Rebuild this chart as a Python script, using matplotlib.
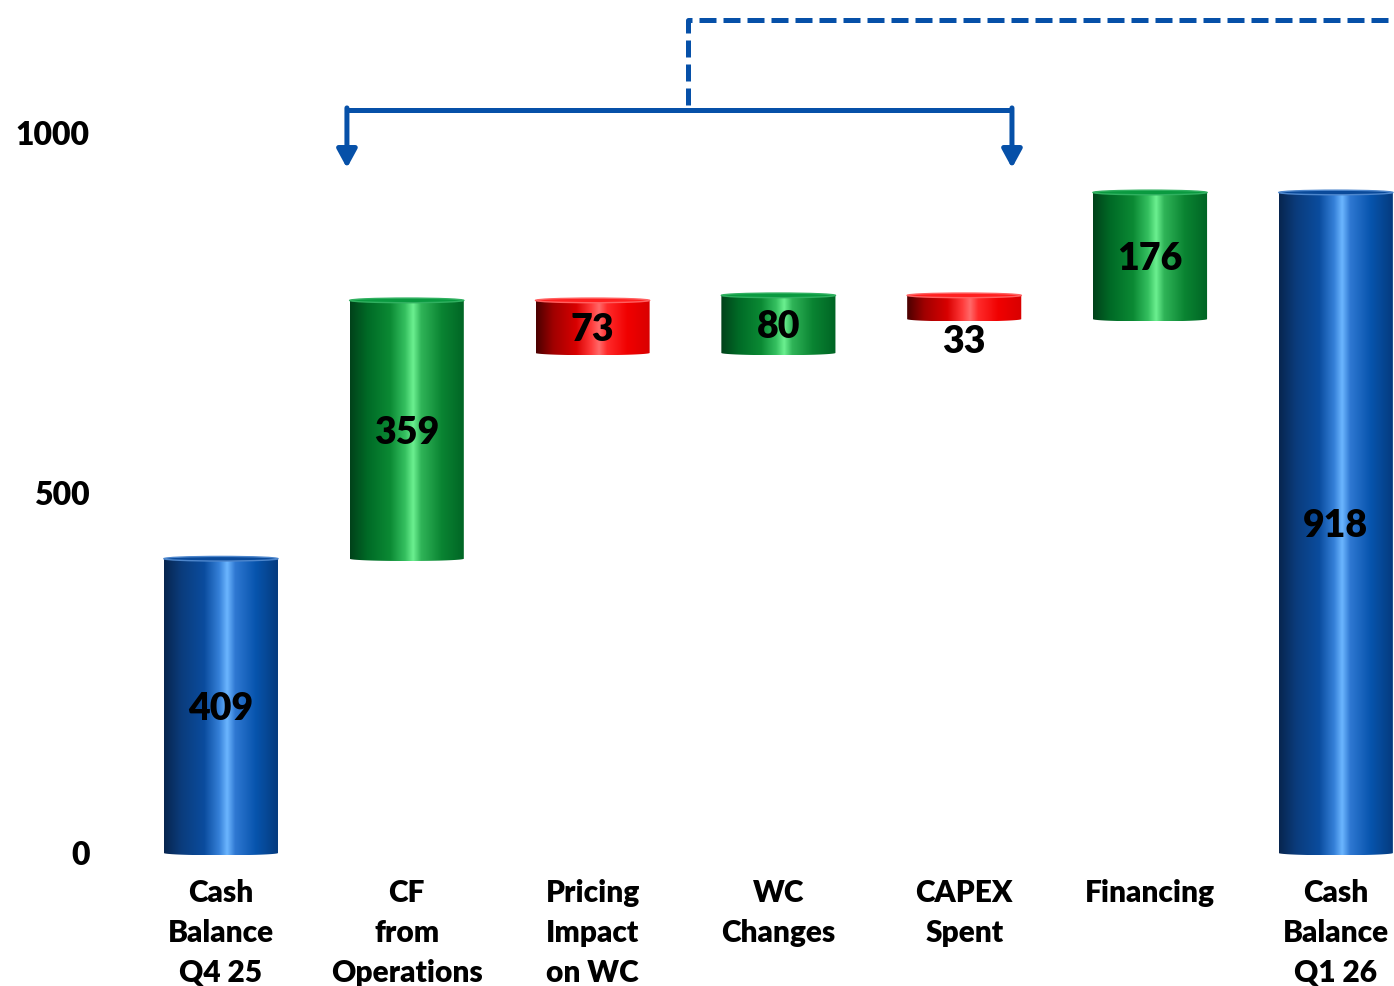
import matplotlib
matplotlib.use("Agg")
import matplotlib.pyplot as plt
import numpy as np
from matplotlib.colors import LinearSegmentedColormap
from matplotlib.path import Path
from matplotlib.patches import PathPatch, Ellipse

plt.rcParams['font.family'] = ['Lato', 'DejaVu Sans']
plt.rcParams['font.weight'] = 'heavy'

categories = ["Cash\nBalance\nQ4 25", "CF\nfrom\nOperations", "Pricing\nImpact\non WC",
              "WC\nChanges", "CAPEX\nSpent", "Financing", "Cash\nBalance\nQ1 26"]
changes = [409, 359, -73, 80, -33, 176, 918]
kinds = ["total", "up", "down", "up", "down", "up", "total"]
yticks = [0, 500, 1000]

cmaps = {
    "total": LinearSegmentedColormap.from_list("blu", [
        (0.0, "#07254f"), (0.15, "#0b3c7c"), (0.35, "#0a4c9e"), (0.48, "#3580d8"),
        (0.55, "#6cb6ff"), (0.62, "#2f78d2"), (0.8, "#0754ad"), (1.0, "#053a7c")]),
    "up": LinearSegmentedColormap.from_list("grn", [
        (0.0, "#00421a"), (0.15, "#006a26"), (0.35, "#0b8a34"), (0.48, "#35c060"),
        (0.55, "#6cf090"), (0.62, "#30b458"), (0.8, "#0a8432"), (1.0, "#006424")]),
    "down": LinearSegmentedColormap.from_list("red", [
        (0.0, "#4a0000"), (0.15, "#a00000"), (0.35, "#d80000"), (0.48, "#ff3a3a"),
        (0.55, "#ff6a6a"), (0.62, "#ff2a2a"), (0.8, "#f00000"), (1.0, "#d80000")]),
}
cap_colors = {"total": ("#0a4a9a", "#4d86cc"), "up": ("#0a9a40", "#30b060"),
              "down": ("#ff2020", "#ff6060")}

# running totals for the waterfall
bottoms, tops = [], []
level = 0
for c, k in zip(changes, kinds):
    if k == "total":
        bottoms.append(0)
        tops.append(c)
        level = c
    else:
        new = level + c
        bottoms.append(min(level, new))
        tops.append(max(level, new))
        level = new

fig = plt.figure(figsize=(13.94, 9.86), dpi=100)
ax = fig.add_axes([105 / 1394, 124 / 986, 1 - 105 / 1394, 862 / 986])
ax.set_xlim(-0.624, 6.313)
ax.set_ylim(-12.5, 1185.5)

w = 0.614
rim = 3.2  # half-height of the elliptical cap in data units
grad = np.linspace(0, 1, 256).reshape(1, -1)

for i, (b, t, k) in enumerate(zip(bottoms, tops, kinds)):
    x0, x1 = i - w / 2, i + w / 2
    th = np.linspace(np.pi, 2 * np.pi, 40)
    arc = np.column_stack([i + w / 2 * np.cos(th), b + rim * np.sin(th)])
    verts = np.vstack([[x0, t], arc, [x1, t], [x0, t]])
    codes = [Path.MOVETO] + [Path.LINETO] * (len(verts) - 2) + [Path.CLOSEPOLY]
    body = PathPatch(Path(verts, codes), facecolor="none", edgecolor="none")
    ax.add_patch(body)
    im = ax.imshow(grad, cmap=cmaps[k], extent=[x0, x1, b - rim, t], aspect="auto",
                   interpolation="bilinear", zorder=2)
    im.set_clip_path(body)
    fc, ec = cap_colors[k]
    ax.add_patch(Ellipse((i, t), w, 2 * rim, facecolor=fc, edgecolor=ec, lw=1.0, zorder=3))

for i, (b, t, c) in enumerate(zip(bottoms, tops, changes)):
    if t - b < 50:
        y = b - 28
    else:
        y = (b + t) / 2
    ax.text(i, y, f"{abs(c)}", ha="center", va="center_baseline", fontsize=27,
            fontweight="heavy", color="black", zorder=4)

ax.set_xticks(range(len(categories)), categories)
ax.set_yticks(yticks, [str(v) for v in yticks])
ax.tick_params(length=0)
ax.tick_params(axis="x", pad=12, labelsize=21.5)
ax.tick_params(axis="y", pad=11, labelsize=23)
for lab in ax.get_xticklabels() + ax.get_yticklabels():
    lab.set_fontweight("heavy")
for lab in ax.get_xticklabels():
    lab.set_linespacing(1.52)
for s in ax.spines.values():
    s.set_visible(False)

# bracket over operating items
blue = "#0650a8"
xa, xb, yb, ytip = 0.678, 4.257, 1033, 952
ax.plot([xa, xb], [yb, yb], color=blue, lw=3.6, solid_capstyle="butt", zorder=5)
for xx in (xa, xb):
    ax.annotate("", xy=(xx, ytip), xytext=(xx, yb + 2.5),
                arrowprops=dict(arrowstyle="-|>,head_length=1.1,head_width=0.6",
                                color=blue, lw=3.6, shrinkA=0, shrinkB=0), zorder=5)
dash, = ax.plot([2.513, 2.513, 6.6], [1039, 1158, 1158], color=blue, lw=3.6,
                dash_capstyle="butt", zorder=5, clip_on=False)
dash.set_dashes((3.4, 1.4))

fig.savefig("out.png", dpi=100)
